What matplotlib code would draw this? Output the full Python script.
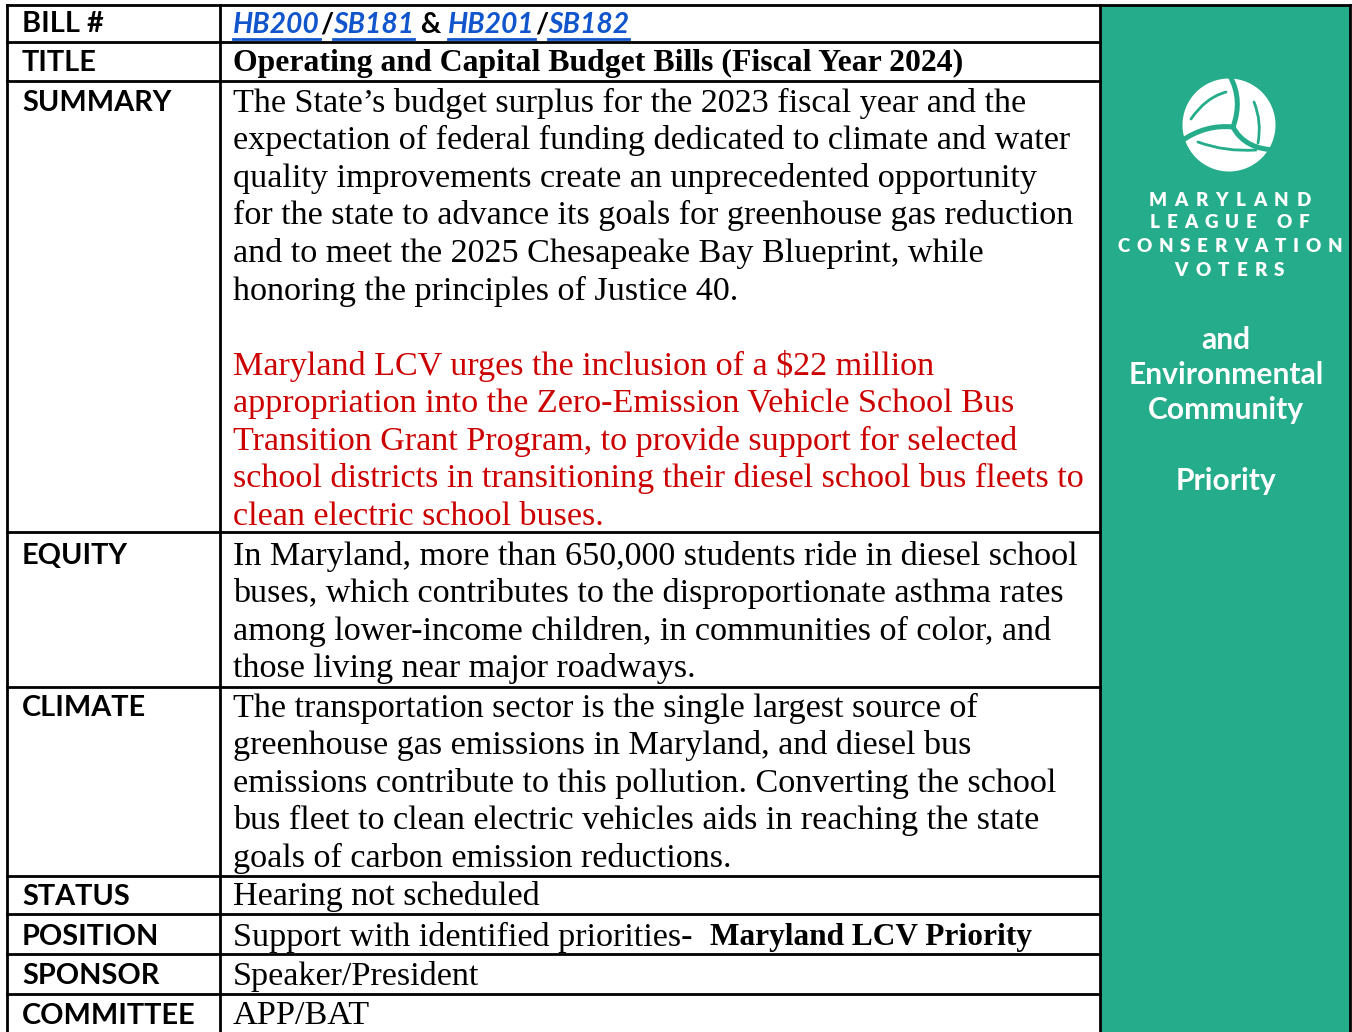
import numpy as np
import matplotlib
matplotlib.use("Agg")
import matplotlib.pyplot as plt
from matplotlib.patches import Rectangle, Circle, PathPatch
from matplotlib.path import Path

# ---------------- data ----------------
row_labels = ["BILL #", "TITLE", "SUMMARY", "EQUITY", "CLIMATE", "STATUS",
              "POSITION", "SPONSOR", "COMMITTEE"]
bill_links = ["HB200", "SB181", "HB201", "SB182"]
title_text = "Operating and Capital Budget Bills (Fiscal Year 2024)"
summary_lines = [
    "The State\u2019s budget surplus for the 2023 fiscal year and the",
    "expectation of federal funding dedicated to climate and water",
    "quality improvements create an unprecedented opportunity",
    "for the state to advance its goals for greenhouse gas reduction",
    "and to meet the 2025 Chesapeake Bay Blueprint, while",
    "honoring the principles of Justice 40.",
]
summary_red_lines = [
    "Maryland LCV urges the inclusion of a $22 million",
    "appropriation into the Zero-Emission Vehicle School Bus",
    "Transition Grant Program, to provide support for selected",
    "school districts in transitioning their diesel school bus fleets to",
    "clean electric school buses.",
]
equity_lines = [
    "In Maryland, more than 650,000 students ride in diesel school",
    "buses, which contributes to the disproportionate asthma rates",
    "among lower-income children, in communities of color, and",
    "those living near major roadways.",
]
climate_lines = [
    "The transportation sector is the single largest source of",
    "greenhouse gas emissions in Maryland, and diesel bus",
    "emissions contribute to this pollution. Converting the school",
    "bus fleet to clean electric vehicles aids in reaching the state",
    "goals of carbon emission reductions.",
]
status_text = "Hearing not scheduled"
position_text = "Support with identified priorities-  "
position_bold = "Maryland LCV Priority"
sponsor_text = "Speaker/President"
committee_text = "APP/BAT"
org_lines = ["MARYLAND", "LEAGUE OF", "CONSERVATION", "VOTERS"]
priority_lines = ["and", "Environmental", "Community", "", "Priority"]

# ---------------- styles ----------------
W, H = 1352, 1032
GREEN = "#25AC8A"
RED = "#CC0000"
BLUE = "#1155CC"
SERIF = "Liberation Serif"
SANS = "Lato"
BODY_FS = 24.6
TITLE_FS = 22.9
BOLD_POS_FS = 22.6
LABEL_FS = 20.8
LINK_FS = 20.3
LW = 2.0

fig = plt.figure(figsize=(W / 100, H / 100), dpi=100)
ax = fig.add_axes([0, 0, 1, 1])
ax.set_xlim(0, W)
ax.set_ylim(H, 0)
ax.axis("off")
fig.canvas.draw()
renderer = fig.canvas.get_renderer()


def width_of(t):
    bb = t.get_window_extent(renderer=renderer)
    return bb.width


# table geometry
x_left, x_div, x_right, x_panel_r = 6.5, 219.5, 1100, 1350
row_edges = [5, 42, 81, 532, 687, 876, 914, 954, 994]

# green panel
ax.add_patch(Rectangle((x_right, row_edges[0]), x_panel_r - x_right, H,
                       facecolor=GREEN, edgecolor="none", zorder=0))

# lines
for y in row_edges:
    ax.plot([x_left, x_right], [y, y], color="black", lw=LW, zorder=3,
            solid_capstyle="projecting")
ax.plot([x_right, x_panel_r], [row_edges[0], row_edges[0]], color="black",
        lw=LW, zorder=3, solid_capstyle="projecting")
for x in [x_left, x_div, x_right, x_panel_r]:
    ax.plot([x, x], [row_edges[0], H + 5], color="black", lw=LW, zorder=3,
            solid_capstyle="projecting")

# labels
label_y = [24, 63, 103, 556, 708, 897, 937, 976, 1016]
for lab, y in zip(row_labels, label_y):
    ax.text(22, y, lab, fontsize=LABEL_FS, fontfamily=SANS, fontweight="bold",
            va="center", ha="left", color="black")

# BILL row with links
xt = 233
y = 25
parts = [(bill_links[0], True), ("/", False), (bill_links[1], True), (" & ", False),
         (bill_links[2], True), ("/", False), (bill_links[3], True)]
for s, link in parts:
    if link:
        t = ax.text(xt, y, s, fontsize=LINK_FS, fontfamily=SANS, fontstyle="italic",
                    fontweight="bold", color=BLUE, va="center", ha="left")
        w = width_of(t)
        ax.plot([xt, xt + w], [y + 13.5, y + 13.5], color=BLUE, lw=2.0)
    else:
        t = ax.text(xt, y, s, fontsize=LINK_FS, fontfamily=SANS, fontweight="bold",
                    color="black", va="center", ha="left")
        w = width_of(t)
    xt += w

# title
ax.text(233, 63, title_text, fontsize=TITLE_FS, fontfamily=SERIF, fontweight="bold",
        va="center", ha="left")


def body(lines, y0, color="black", step=37.6):
    for i, s in enumerate(lines):
        ax.text(233, y0 + i * step, s, fontsize=BODY_FS, fontfamily=SERIF,
                color=color, va="center", ha="left")


body(summary_lines, 103)
body(summary_red_lines, 366, color=RED)
body(equity_lines, 556)
body(climate_lines, 708)
body([status_text], 897)
ax.text(233, 937, position_text, fontsize=BODY_FS, fontfamily=SERIF,
        va="center", ha="left")
ax.text(1032, 937, position_bold, fontsize=BOLD_POS_FS, fontfamily=SERIF,
        fontweight="bold", va="center", ha="right")
body([sponsor_text], 976)
body([committee_text], 1016)

# ---------------- logo ----------------
cx, cy, R = 1229, 125, 46.5
ax.add_patch(Circle((cx, cy), R, facecolor="white", edgecolor="none", zorder=4))


def curve(pts, lw):
    codes = [Path.MOVETO] + [Path.CURVE3] * (len(pts) - 1)
    ax.add_patch(PathPatch(Path(pts, codes), facecolor="none", edgecolor=GREEN,
                           lw=lw, zorder=5, capstyle="round"))


# gaps between leaves
curve([(1230, 76), (1243, 100), (1233, 127)], 3.6)
curve([(1180, 142), (1205, 124), (1233, 127)], 3.6)
curve([(1233, 127), (1245, 150), (1278, 150)], 3.6)
# leaf veins
curve([(1191, 119), (1205, 98), (1226, 92)], 2.0)
curve([(1254, 102), (1262, 122), (1258, 143)], 2.0)
curve([(1198, 142), (1225, 152), (1256, 150)], 2.0)

# spaced org name
org_y = [200, 223, 247, 271]
org_w = {"MARYLAND": 162, "LEAGUE OF": 159, "CONSERVATION": 225, "VOTERS": 110}
ORG_FS = 13.5
for s, y in zip(org_lines, org_y):
    ws = []
    for ch in s:
        t = ax.text(0, -100, ch if ch != " " else "M", fontsize=ORG_FS,
                    fontfamily=SANS, fontweight="heavy")
        ws.append(width_of(t) if ch != " " else width_of(t) * 0.35)
        t.remove()
    total = org_w[s]
    track = (total - sum(ws)) / max(len(s) - 1, 1)
    x = 1229.5 - total / 2
    for ch, wch in zip(s, ws):
        if ch != " ":
            ax.text(x, y, ch, fontsize=ORG_FS, fontfamily=SANS, fontweight="heavy",
                    color="white", va="center", ha="left", zorder=6)
        x += wch + track

for s, y in zip(priority_lines, [340, 375, 410, 445, 481]):
    if s:
        ax.text(1226, y, s, fontsize=21.6, fontfamily=SANS, fontweight="bold",
                color="white", va="center", ha="center", zorder=6)

fig.savefig("out.png", dpi=100, facecolor="white")
